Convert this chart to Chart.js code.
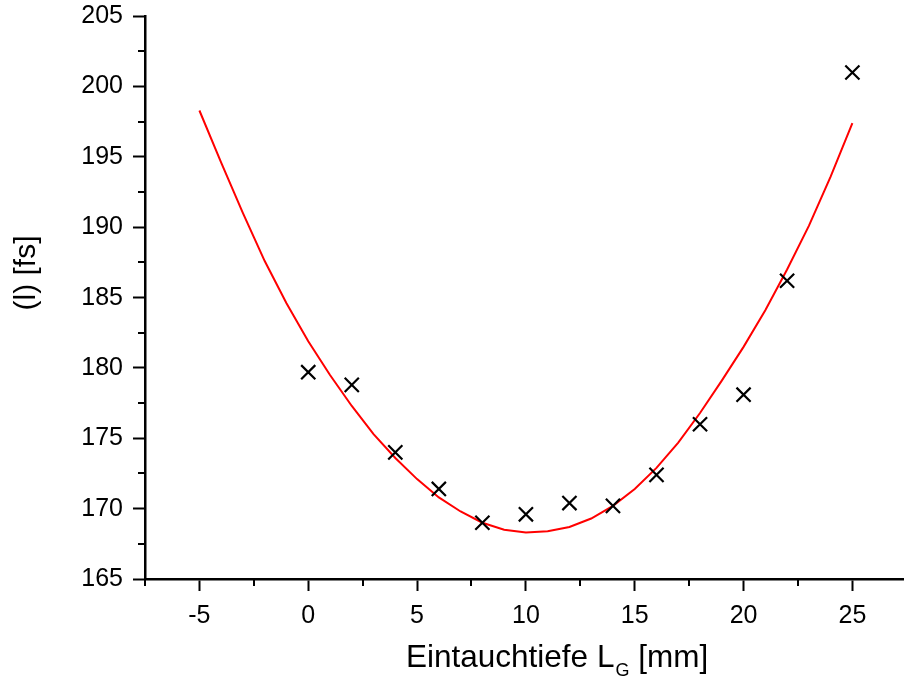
<!DOCTYPE html>
<html>
<head>
<meta charset="utf-8">
<script src="https://cdn.jsdelivr.net/npm/chart.js@4/dist/chart.umd.min.js"></script>
<style>
  html, body { margin: 0; padding: 0; background: #fff; overflow: hidden; }
  #wrap { width: 919px; height: 679px; }
</style>
</head>
<body>
<div id="wrap"><canvas id="chart" width="919" height="679"></canvas></div>
<script>
// Messpunkte: Eintauchtiefe [mm] und Pulsdauer [fs]
const depthMm = [0, 2, 4, 6, 8, 10, 12, 14, 16, 18, 20, 22, 25];
const durationFs = [179.7, 178.8, 174.0, 171.4, 169.0, 169.6, 170.4, 170.2, 172.4, 176.0, 178.1, 186.2, 201.0];

// Ausgleichskurve
const fitX = [-5, -4, -3, -2, -1, 0, 1, 2, 3, 4, 5, 6, 7, 8, 9, 10, 11, 12, 13, 14, 15, 16, 17, 18, 19, 20, 21, 22, 23, 24, 25];
const fitY = [198.3, 194.6, 191.0, 187.6, 184.6, 181.9, 179.5, 177.3, 175.3, 173.6, 172.1, 170.8, 169.8, 169.0, 168.5, 168.3, 168.4, 168.7, 169.3, 170.2, 171.4, 172.9, 174.7, 176.8, 179.1, 181.5, 184.1, 187.0, 190.1, 193.6, 197.4];

// Achsen
const xTicks = [-5, 0, 5, 10, 15, 20, 25];
const xMinor = [-7.5, -2.5, 2.5, 7.5, 12.5, 17.5, 22.5];
const yTicks = [165, 170, 175, 180, 185, 190, 195, 200, 205];
const yMinor = [167.5, 172.5, 177.5, 182.5, 187.5, 192.5, 197.5, 202.5];

const FONT = "'Liberation Sans', Arial, sans-serif";

// kleine Striche + Achsentitel (mit Index G)
const extras = {
  id: "extras",
  afterDraw(chart) {
    const ctx = chart.ctx;
    const xs = chart.scales.x;
    const ys = chart.scales.y;
    const area = chart.chartArea;
    ctx.save();
    ctx.strokeStyle = "#000";
    ctx.lineWidth = 2;
    ctx.beginPath();
    xMinor.forEach((v) => {
      const px = Math.round(xs.getPixelForValue(v));
      ctx.moveTo(px, area.bottom);
      ctx.lineTo(px, area.bottom + 7);
    });
    yMinor.forEach((v) => {
      const py = Math.round(ys.getPixelForValue(v));
      ctx.moveTo(area.left - 7, py);
      ctx.lineTo(area.left, py);
    });
    ctx.stroke();

    ctx.fillStyle = "#000";
    ctx.textBaseline = "alphabetic";
    ctx.textAlign = "left";

    // x-Titel
    let x = 406;
    const base = 667;
    ctx.font = "31.5px " + FONT;
    const part1 = "Eintauchtiefe L";
    ctx.fillText(part1, x, base);
    x += ctx.measureText(part1).width;
    ctx.font = "18px " + FONT;
    ctx.fillText("G", x + 1, base + 9);
    x += ctx.measureText("G").width + 1;
    ctx.font = "31.5px " + FONT;
    ctx.fillText(" [mm]", x, base);

    // y-Titel
    ctx.translate(27, 273);
    ctx.rotate(-Math.PI / 2);
    ctx.textAlign = "center";
    ctx.textBaseline = "middle";
    ctx.font = "30px " + FONT;
    ctx.fillText("(l) [fs]", 0, 0);
    ctx.restore();
  },
};

const ctx = document.getElementById("chart").getContext("2d");

new Chart(ctx, {
  type: "scatter",
  data: {
    datasets: [
      {
        label: "Fit",
        type: "line",
        data: fitX.map((v, i) => ({ x: v, y: fitY[i] })),
        borderColor: "#ff0000",
        borderWidth: 2,
        pointRadius: 0,
        tension: 0,
        fill: false,
        order: 2,
      },
      {
        label: "Messung",
        data: depthMm.map((v, i) => ({ x: v, y: durationFs[i] })),
        pointStyle: "crossRot",
        pointRadius: 10,
        borderColor: "#000",
        backgroundColor: "#000",
        borderWidth: 2.2,
        order: 1,
      },
    ],
  },
  options: {
    responsive: false,
    animation: false,
    layout: { padding: { top: 16, right: 5, left: 0, bottom: 0 } },
    plugins: {
      legend: { display: false },
      tooltip: { enabled: false },
    },
    scales: {
      x: {
        type: "linear",
        min: -7.5,
        max: 27.5,
        afterBuildTicks: (scale) => {
          scale.ticks = xTicks.map((v) => ({ value: v }));
        },
        afterFit: (scale) => {
          scale.height = 100;
        },
        grid: {
          drawOnChartArea: false,
          drawTicks: true,
          tickLength: 12,
          tickWidth: 2,
          tickColor: "#000",
        },
        border: { display: true, color: "#000", width: 2.5 },
        ticks: {
          color: "#000",
          font: { family: FONT, size: 25 },
          padding: 10,
          maxRotation: 0,
        },
      },
      y: {
        type: "linear",
        min: 165,
        max: 205,
        afterBuildTicks: (scale) => {
          scale.ticks = yTicks.map((v) => ({ value: v }));
        },
        afterFit: (scale) => {
          scale.width = 145;
        },
        grid: {
          drawOnChartArea: false,
          drawTicks: true,
          tickLength: 12,
          tickWidth: 2,
          tickColor: "#000",
        },
        border: { display: true, color: "#000", width: 2.5 },
        ticks: {
          color: "#000",
          font: { family: FONT, size: 25, lineHeight: 0.5 },
          padding: 10,
        },
      },
    },
  },
  plugins: [extras],
});
</script>
</body>
</html>
